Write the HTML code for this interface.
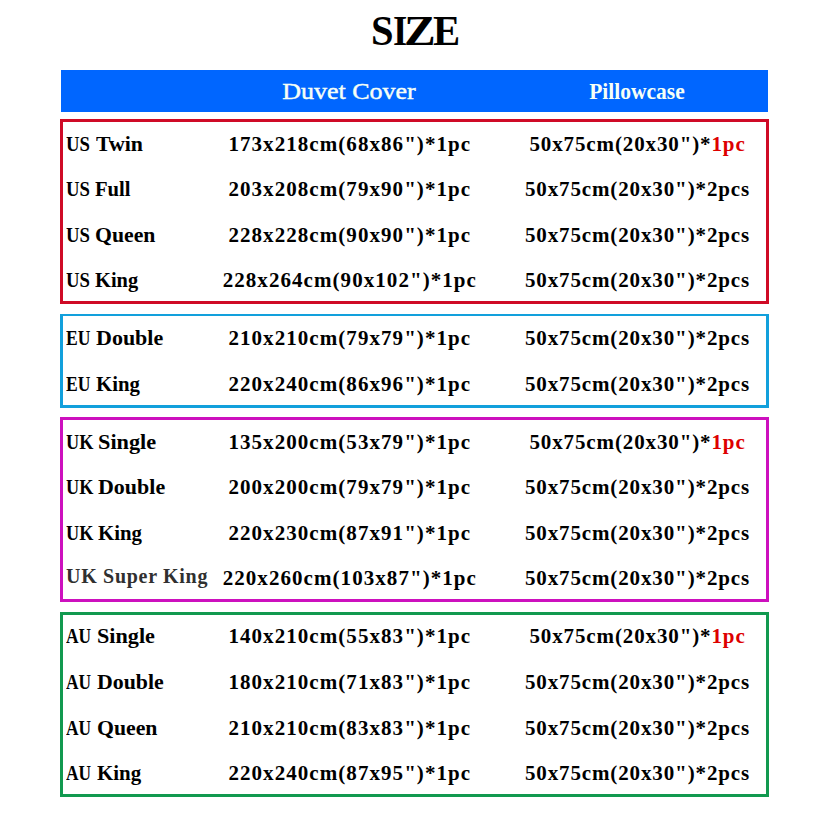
<!DOCTYPE html>
<html><head><meta charset="utf-8"><style>
html,body{margin:0;padding:0;background:#fff;}
body{width:821px;height:821px;position:relative;overflow:hidden;font-family:"Liberation Serif",serif;}
.t{position:absolute;white-space:pre;}
</style></head><body>
<div style="position:absolute;left:60px;top:119px;width:703px;height:179px;border:3px solid #cf0a26;border-top-width:3px;"></div>
<div style="position:absolute;left:60px;top:314px;width:703px;height:89px;border:3px solid #12a0dc;border-top-width:2px;"></div>
<div style="position:absolute;left:60px;top:417px;width:703px;height:179px;border:3px solid #cd10be;border-top-width:3px;"></div>
<div style="position:absolute;left:60px;top:612px;width:703px;height:179px;border:3px solid #11994f;border-top-width:3px;"></div>
<div style="position:absolute;left:61px;top:70px;width:707px;height:42px;background:#0066ff;"></div>
<div class="t" style="left:370.94px;top:11.10px;font-size:41.2px;line-height:41.2px;font-weight:bold;color:#000;transform:scaleX(0.9857);transform-origin:0 0;font-family:'Liberation Serif',serif;">S</div>
<div class="t" style="left:392.86px;top:11.10px;font-size:41.2px;line-height:41.2px;font-weight:bold;color:#000;transform:scaleX(0.8901);transform-origin:0 0;font-family:'Liberation Serif',serif;">I</div>
<div class="t" style="left:403.73px;top:11.10px;font-size:41.2px;line-height:41.2px;font-weight:bold;color:#000;transform:scaleX(1.153);transform-origin:0 0;font-family:'Liberation Serif',serif;">Z</div>
<div class="t" style="left:432.6px;top:11.10px;font-size:41.2px;line-height:41.2px;font-weight:bold;color:#000;transform:scaleX(0.9893);transform-origin:0 0;font-family:'Liberation Serif',serif;">E</div>
<div class="t" style="left:-51px;width:800px;text-align:center;top:79.40px;font-size:24px;line-height:24px;font-weight:normal;color:#f6fff6;transform:scaleX(1.083);transform-origin:400px 0;font-family:'Liberation Serif',serif;-webkit-text-stroke:0.45px #f6fff6;">Duvet Cover</div>
<div class="t" style="left:236.5px;width:800px;text-align:center;top:80.76px;font-size:22.5px;line-height:22.5px;font-weight:bold;color:#f6fff6;transform:scaleX(0.956);transform-origin:400px 0;font-family:'Liberation Serif',serif;">Pillowcase</div>
<div class="t" style="left:66.21px;top:134.41px;font-size:21px;line-height:21px;font-weight:bold;color:#000;transform:scaleX(0.892);transform-origin:0 0;font-family:'Liberation Serif',serif;">US</div>
<div class="t" style="left:96.1px;top:134.41px;font-size:21px;line-height:21px;font-weight:bold;color:#000;transform:scaleX(1.04);transform-origin:0 0;font-family:'Liberation Serif',serif;">Twin</div>
<div class="t" style="left:-50.19999999999999px;width:800px;text-align:center;top:134.41px;font-size:21px;line-height:21px;font-weight:bold;color:#000;letter-spacing:1.06px;font-family:'Liberation Serif',serif;">173x218cm(68x86")*1pc</div>
<div class="t" style="left:237.5px;width:800px;text-align:center;top:134.41px;font-size:21px;line-height:21px;font-weight:bold;color:#000;letter-spacing:0.88px;font-family:'Liberation Serif',serif;">50x75cm(20x30")*<span style="color:#dd0000">1pc</span></div>
<div class="t" style="left:66.21px;top:179.01px;font-size:21px;line-height:21px;font-weight:bold;color:#000;transform:scaleX(0.892);transform-origin:0 0;font-family:'Liberation Serif',serif;">US</div>
<div class="t" style="left:95.22px;top:179.01px;font-size:21px;line-height:21px;font-weight:bold;color:#000;transform:scaleX(0.9829);transform-origin:0 0;font-family:'Liberation Serif',serif;">Full</div>
<div class="t" style="left:-50.19999999999999px;width:800px;text-align:center;top:179.01px;font-size:21px;line-height:21px;font-weight:bold;color:#000;letter-spacing:1.06px;font-family:'Liberation Serif',serif;">203x208cm(79x90")*1pc</div>
<div class="t" style="left:237.5px;width:800px;text-align:center;top:179.01px;font-size:21px;line-height:21px;font-weight:bold;color:#000;letter-spacing:0.88px;font-family:'Liberation Serif',serif;">50x75cm(20x30")*2pcs</div>
<div class="t" style="left:66.21px;top:225.01px;font-size:21px;line-height:21px;font-weight:bold;color:#000;transform:scaleX(0.892);transform-origin:0 0;font-family:'Liberation Serif',serif;">US</div>
<div class="t" style="left:95.16px;top:225.01px;font-size:21px;line-height:21px;font-weight:bold;color:#000;transform:scaleX(1.0351);transform-origin:0 0;font-family:'Liberation Serif',serif;">Queen</div>
<div class="t" style="left:-50.19999999999999px;width:800px;text-align:center;top:225.01px;font-size:21px;line-height:21px;font-weight:bold;color:#000;letter-spacing:1.06px;font-family:'Liberation Serif',serif;">228x228cm(90x90")*1pc</div>
<div class="t" style="left:237.5px;width:800px;text-align:center;top:225.01px;font-size:21px;line-height:21px;font-weight:bold;color:#000;letter-spacing:0.88px;font-family:'Liberation Serif',serif;">50x75cm(20x30")*2pcs</div>
<div class="t" style="left:66.21px;top:269.81px;font-size:21px;line-height:21px;font-weight:bold;color:#000;transform:scaleX(0.892);transform-origin:0 0;font-family:'Liberation Serif',serif;">US</div>
<div class="t" style="left:95.23px;top:269.81px;font-size:21px;line-height:21px;font-weight:bold;color:#000;transform:scaleX(0.9721);transform-origin:0 0;font-family:'Liberation Serif',serif;">King</div>
<div class="t" style="left:-50.19999999999999px;width:800px;text-align:center;top:269.81px;font-size:21px;line-height:21px;font-weight:bold;color:#000;letter-spacing:1.06px;font-family:'Liberation Serif',serif;">228x264cm(90x102")*1pc</div>
<div class="t" style="left:237.5px;width:800px;text-align:center;top:269.81px;font-size:21px;line-height:21px;font-weight:bold;color:#000;letter-spacing:0.88px;font-family:'Liberation Serif',serif;">50x75cm(20x30")*2pcs</div>
<div class="t" style="left:66.36px;top:328.11px;font-size:21px;line-height:21px;font-weight:bold;color:#000;transform:scaleX(0.8357);transform-origin:0 0;font-family:'Liberation Serif',serif;">EU</div>
<div class="t" style="left:96.35px;top:328.11px;font-size:21px;line-height:21px;font-weight:bold;color:#000;transform:scaleX(1.0476);transform-origin:0 0;font-family:'Liberation Serif',serif;">Double</div>
<div class="t" style="left:-50.19999999999999px;width:800px;text-align:center;top:328.11px;font-size:21px;line-height:21px;font-weight:bold;color:#000;letter-spacing:1.06px;font-family:'Liberation Serif',serif;">210x210cm(79x79")*1pc</div>
<div class="t" style="left:237.5px;width:800px;text-align:center;top:328.11px;font-size:21px;line-height:21px;font-weight:bold;color:#000;letter-spacing:0.88px;font-family:'Liberation Serif',serif;">50x75cm(20x30")*2pcs</div>
<div class="t" style="left:66.36px;top:373.51px;font-size:21px;line-height:21px;font-weight:bold;color:#000;transform:scaleX(0.8357);transform-origin:0 0;font-family:'Liberation Serif',serif;">EU</div>
<div class="t" style="left:96.41px;top:373.51px;font-size:21px;line-height:21px;font-weight:bold;color:#000;transform:scaleX(0.9907);transform-origin:0 0;font-family:'Liberation Serif',serif;">King</div>
<div class="t" style="left:-50.19999999999999px;width:800px;text-align:center;top:373.51px;font-size:21px;line-height:21px;font-weight:bold;color:#000;letter-spacing:1.06px;font-family:'Liberation Serif',serif;">220x240cm(86x96")*1pc</div>
<div class="t" style="left:237.5px;width:800px;text-align:center;top:373.51px;font-size:21px;line-height:21px;font-weight:bold;color:#000;letter-spacing:0.88px;font-family:'Liberation Serif',serif;">50x75cm(20x30")*2pcs</div>
<div class="t" style="left:66.13px;top:431.71px;font-size:21px;line-height:21px;font-weight:bold;color:#000;transform:scaleX(0.8667);transform-origin:0 0;font-family:'Liberation Serif',serif;">UK</div>
<div class="t" style="left:97.94px;top:431.71px;font-size:21px;line-height:21px;font-weight:bold;color:#000;transform:scaleX(1.0604);transform-origin:0 0;font-family:'Liberation Serif',serif;">Single</div>
<div class="t" style="left:-50.19999999999999px;width:800px;text-align:center;top:431.71px;font-size:21px;line-height:21px;font-weight:bold;color:#000;letter-spacing:1.06px;font-family:'Liberation Serif',serif;">135x200cm(53x79")*1pc</div>
<div class="t" style="left:237.5px;width:800px;text-align:center;top:431.71px;font-size:21px;line-height:21px;font-weight:bold;color:#000;letter-spacing:0.88px;font-family:'Liberation Serif',serif;">50x75cm(20x30")*<span style="color:#dd0000">1pc</span></div>
<div class="t" style="left:66.13px;top:477.11px;font-size:21px;line-height:21px;font-weight:bold;color:#000;transform:scaleX(0.8667);transform-origin:0 0;font-family:'Liberation Serif',serif;">UK</div>
<div class="t" style="left:98.35px;top:477.11px;font-size:21px;line-height:21px;font-weight:bold;color:#000;transform:scaleX(1.046);transform-origin:0 0;font-family:'Liberation Serif',serif;">Double</div>
<div class="t" style="left:-50.19999999999999px;width:800px;text-align:center;top:477.11px;font-size:21px;line-height:21px;font-weight:bold;color:#000;letter-spacing:1.06px;font-family:'Liberation Serif',serif;">200x200cm(79x79")*1pc</div>
<div class="t" style="left:237.5px;width:800px;text-align:center;top:477.11px;font-size:21px;line-height:21px;font-weight:bold;color:#000;letter-spacing:0.88px;font-family:'Liberation Serif',serif;">50x75cm(20x30")*2pcs</div>
<div class="t" style="left:66.13px;top:522.71px;font-size:21px;line-height:21px;font-weight:bold;color:#000;transform:scaleX(0.8667);transform-origin:0 0;font-family:'Liberation Serif',serif;">UK</div>
<div class="t" style="left:98.41px;top:522.71px;font-size:21px;line-height:21px;font-weight:bold;color:#000;transform:scaleX(0.9907);transform-origin:0 0;font-family:'Liberation Serif',serif;">King</div>
<div class="t" style="left:-50.19999999999999px;width:800px;text-align:center;top:522.71px;font-size:21px;line-height:21px;font-weight:bold;color:#000;letter-spacing:1.06px;font-family:'Liberation Serif',serif;">220x230cm(87x91")*1pc</div>
<div class="t" style="left:237.5px;width:800px;text-align:center;top:522.71px;font-size:21px;line-height:21px;font-weight:bold;color:#000;letter-spacing:0.88px;font-family:'Liberation Serif',serif;">50x75cm(20x30")*2pcs</div>
<div class="t" style="left:66px;top:566.25px;font-size:20px;line-height:20px;font-weight:bold;color:#303030;letter-spacing:0.7px;font-family:'Liberation Serif',serif;">UK Super King</div>
<div class="t" style="left:-50.19999999999999px;width:800px;text-align:center;top:568.01px;font-size:21px;line-height:21px;font-weight:bold;color:#000;letter-spacing:1.06px;font-family:'Liberation Serif',serif;">220x260cm(103x87")*1pc</div>
<div class="t" style="left:237.5px;width:800px;text-align:center;top:568.01px;font-size:21px;line-height:21px;font-weight:bold;color:#000;letter-spacing:0.88px;font-family:'Liberation Serif',serif;">50x75cm(20x30")*2pcs</div>
<div class="t" style="left:66.2px;top:626.11px;font-size:21px;line-height:21px;font-weight:bold;color:#000;transform:scaleX(0.8267);transform-origin:0 0;font-family:'Liberation Serif',serif;">AU</div>
<div class="t" style="left:97.04px;top:626.11px;font-size:21px;line-height:21px;font-weight:bold;color:#000;transform:scaleX(1.0566);transform-origin:0 0;font-family:'Liberation Serif',serif;">Single</div>
<div class="t" style="left:-50.19999999999999px;width:800px;text-align:center;top:626.11px;font-size:21px;line-height:21px;font-weight:bold;color:#000;letter-spacing:1.06px;font-family:'Liberation Serif',serif;">140x210cm(55x83")*1pc</div>
<div class="t" style="left:237.5px;width:800px;text-align:center;top:626.11px;font-size:21px;line-height:21px;font-weight:bold;color:#000;letter-spacing:0.88px;font-family:'Liberation Serif',serif;">50x75cm(20x30")*<span style="color:#dd0000">1pc</span></div>
<div class="t" style="left:66.2px;top:672.01px;font-size:21px;line-height:21px;font-weight:bold;color:#000;transform:scaleX(0.8267);transform-origin:0 0;font-family:'Liberation Serif',serif;">AU</div>
<div class="t" style="left:97.36px;top:672.01px;font-size:21px;line-height:21px;font-weight:bold;color:#000;transform:scaleX(1.0397);transform-origin:0 0;font-family:'Liberation Serif',serif;">Double</div>
<div class="t" style="left:-50.19999999999999px;width:800px;text-align:center;top:672.01px;font-size:21px;line-height:21px;font-weight:bold;color:#000;letter-spacing:1.06px;font-family:'Liberation Serif',serif;">180x210cm(71x83")*1pc</div>
<div class="t" style="left:237.5px;width:800px;text-align:center;top:672.01px;font-size:21px;line-height:21px;font-weight:bold;color:#000;letter-spacing:0.88px;font-family:'Liberation Serif',serif;">50x75cm(20x30")*2pcs</div>
<div class="t" style="left:66.2px;top:718.21px;font-size:21px;line-height:21px;font-weight:bold;color:#000;transform:scaleX(0.8267);transform-origin:0 0;font-family:'Liberation Serif',serif;">AU</div>
<div class="t" style="left:97.36px;top:718.21px;font-size:21px;line-height:21px;font-weight:bold;color:#000;transform:scaleX(1.0368);transform-origin:0 0;font-family:'Liberation Serif',serif;">Queen</div>
<div class="t" style="left:-50.19999999999999px;width:800px;text-align:center;top:718.21px;font-size:21px;line-height:21px;font-weight:bold;color:#000;letter-spacing:1.06px;font-family:'Liberation Serif',serif;">210x210cm(83x83")*1pc</div>
<div class="t" style="left:237.5px;width:800px;text-align:center;top:718.21px;font-size:21px;line-height:21px;font-weight:bold;color:#000;letter-spacing:0.88px;font-family:'Liberation Serif',serif;">50x75cm(20x30")*2pcs</div>
<div class="t" style="left:66.2px;top:762.61px;font-size:21px;line-height:21px;font-weight:bold;color:#000;transform:scaleX(0.8267);transform-origin:0 0;font-family:'Liberation Serif',serif;">AU</div>
<div class="t" style="left:97.4px;top:762.61px;font-size:21px;line-height:21px;font-weight:bold;color:#000;transform:scaleX(0.9977);transform-origin:0 0;font-family:'Liberation Serif',serif;">King</div>
<div class="t" style="left:-50.19999999999999px;width:800px;text-align:center;top:762.61px;font-size:21px;line-height:21px;font-weight:bold;color:#000;letter-spacing:1.06px;font-family:'Liberation Serif',serif;">220x240cm(87x95")*1pc</div>
<div class="t" style="left:237.5px;width:800px;text-align:center;top:762.61px;font-size:21px;line-height:21px;font-weight:bold;color:#000;letter-spacing:0.88px;font-family:'Liberation Serif',serif;">50x75cm(20x30")*2pcs</div>
</body></html>
